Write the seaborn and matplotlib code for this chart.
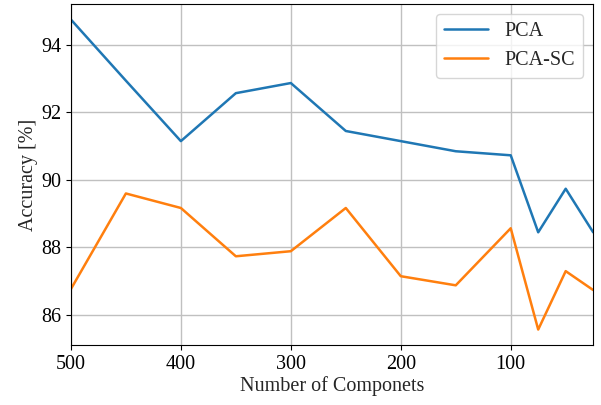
import pandas as pd
import numpy as np
import seaborn as sns
from matplotlib import pyplot as plt

#number of components kept
components = [500, 450, 400, 350, 300, 250, 200, 150, 100, 75, 50, 25]
#accuracy in percent
acc_pca = [94.74, 92.93, 91.14, 92.56, 92.86, 91.44, 91.14, 90.84, 90.72, 88.44, 89.73, 88.44]
acc_pca_sc = [86.76, 89.59, 89.16, 87.73, 87.88, 89.16, 87.14, 86.87, 88.56, 85.56, 87.29, 86.73]

df = pd.DataFrame({'Components': components * 2,
                   'Accuracy': acc_pca + acc_pca_sc,
                   'Method': ['PCA'] * len(components) + ['PCA-SC'] * len(components)})

sns.set_style('ticks')
plt.rcParams['font.family'] = ['Liberation Serif', 'DejaVu Serif']
fs = 14.5

fig, ax = plt.subplots(figsize=(6.01, 4.05), dpi=100)
sns.lineplot(data=df, x='Components', y='Accuracy', hue='Method',
             palette=['#1f77b4', '#ff7f0e'], linewidth=1.8, ax=ax)

ax.set_xlim(500, 25)
ax.set_xticks([500, 400, 300, 200, 100])
ax.set_yticks([86, 88, 90, 92, 94])
ax.grid(True, color='#c0c0c0', linewidth=1)
for s in ax.spines.values():
    s.set_color('black')
ax.tick_params(labelsize=fs, color='black', labelcolor='black')
ax.set_xlabel('Number of Componets', fontsize=fs, labelpad=2)
ax.set_ylabel('Accuracy [%]', fontsize=fs, labelpad=2)
ax.legend(loc='upper right', title=None, fontsize=fs, handlelength=2.2)

fig.subplots_adjust(left=0.118, right=0.987, top=0.99, bottom=0.148)
fig.savefig('out.png', dpi=100)
